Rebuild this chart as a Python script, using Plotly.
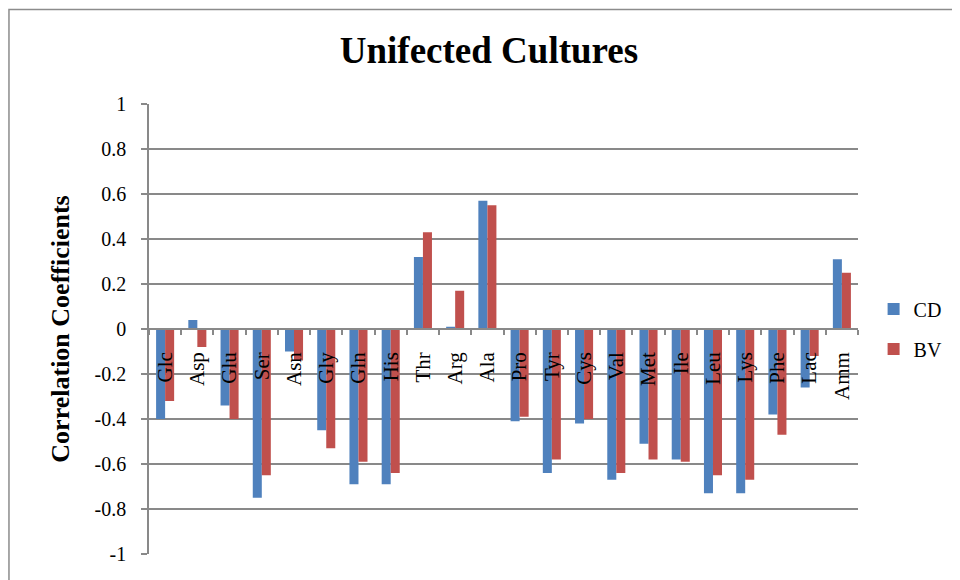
import plotly.graph_objects as go

# amino acids / metabolites on the x axis
categories = ['Glc', 'Asp', 'Glu', 'Ser', 'Asn', 'Gly', 'Gln', 'His', 'Thr', 'Arg', 'Ala',
              'Pro', 'Tyr', 'Cys', 'Val', 'Met', 'Ile', 'Leu', 'Lys', 'Phe', 'Lac', 'Amm']

cd_values = [-0.40, 0.04, -0.34, -0.75, -0.10, -0.45, -0.69, -0.69, 0.32, 0.01, 0.57,
             -0.41, -0.64, -0.42, -0.67, -0.51, -0.58, -0.73, -0.73, -0.38, -0.26, 0.31]
bv_values = [-0.32, -0.08, -0.40, -0.65, -0.14, -0.53, -0.59, -0.64, 0.43, 0.17, 0.55,
             -0.39, -0.58, -0.40, -0.64, -0.58, -0.59, -0.65, -0.67, -0.47, -0.12, 0.25]

y_ticks = [1, 0.8, 0.6, 0.4, 0.2, 0, -0.2, -0.4, -0.6, -0.8, -1]
y_tick_text = ['1', '0.8', '0.6', '0.4', '0.2', '0', '-0.2', '-0.4', '-0.6', '-0.8', '-1']

font_name = 'Liberation Serif'
grid_color = '#898989'


def main():
    fig = go.Figure()
    fig.add_trace(go.Bar(x=categories, y=cd_values, name='CD', legendgroup='cd',
                         marker=dict(color='#4F81BD', line=dict(width=0))))
    fig.add_trace(go.Bar(x=categories, y=bv_values, name='BV', legendgroup='bv',
                         marker=dict(color='#C0504D', line=dict(width=0))))

    # the page body adds ~8px offset, so margins are shifted up/left to compensate
    fig.update_layout(
        width=960, height=580,
        paper_bgcolor='white', plot_bgcolor='white',
        margin=dict(l=141, r=110, t=96, b=34, autoexpand=False),
        barmode='group', bargap=0.44, bargroupgap=0,
        font=dict(family=font_name, color='black'),
        title=dict(text='<b>Unifected Cultures</b>', x=0.501, xanchor='center',
                   y=0.928, yanchor='middle', font=dict(size=37, family=font_name)),
        legend=dict(x=0.022, y=0.5, xanchor='left', yanchor='middle',
                    font=dict(size=20, family=font_name), tracegroupgap=11,
                    traceorder='grouped', itemwidth=30, bgcolor='rgba(0,0,0,0)'),
        showlegend=True,
    )
    fig.update_layout(legend_x=1.022)

    fig.update_xaxes(
        type='category', anchor='free', position=0.5, automargin=False,
        showline=True, linecolor=grid_color, linewidth=1.5,
        showgrid=False, ticks='outside', tickson='boundaries',
        ticklen=5, tickcolor=grid_color, tickwidth=1.5,
        tickangle=-90, tickfont=dict(size=21, family=font_name),
        ticklabelstandoff=14,
        range=[-0.5, len(categories) - 0.5],
    )
    fig.update_yaxes(
        range=[-1, 1], tickvals=y_ticks, ticktext=y_tick_text, automargin=False,
        showline=True, linecolor=grid_color, linewidth=1.5,
        showgrid=True, gridcolor=grid_color, gridwidth=1.5,
        zeroline=False, ticks='outside', ticklen=6,
        tickcolor=grid_color, tickwidth=1.5,
        tickfont=dict(size=20, family=font_name), ticklabelstandoff=11,
        title=dict(text='<b>Correlation Coefficients</b>', standoff=17,
                   font=dict(size=26, family=font_name)),
    )

    # outer chart frame (bottom and right edges run past the page)
    fig.add_shape(type='rect', xref='paper', yref='paper',
                  x0=-0.1975, y0=-0.3, x1=1.5, y1=1.21,
                  line=dict(color='#8c8c8c', width=1.5), layer='below')

    fig.write_html('out.html')


if __name__ == '__main__':
    main()
